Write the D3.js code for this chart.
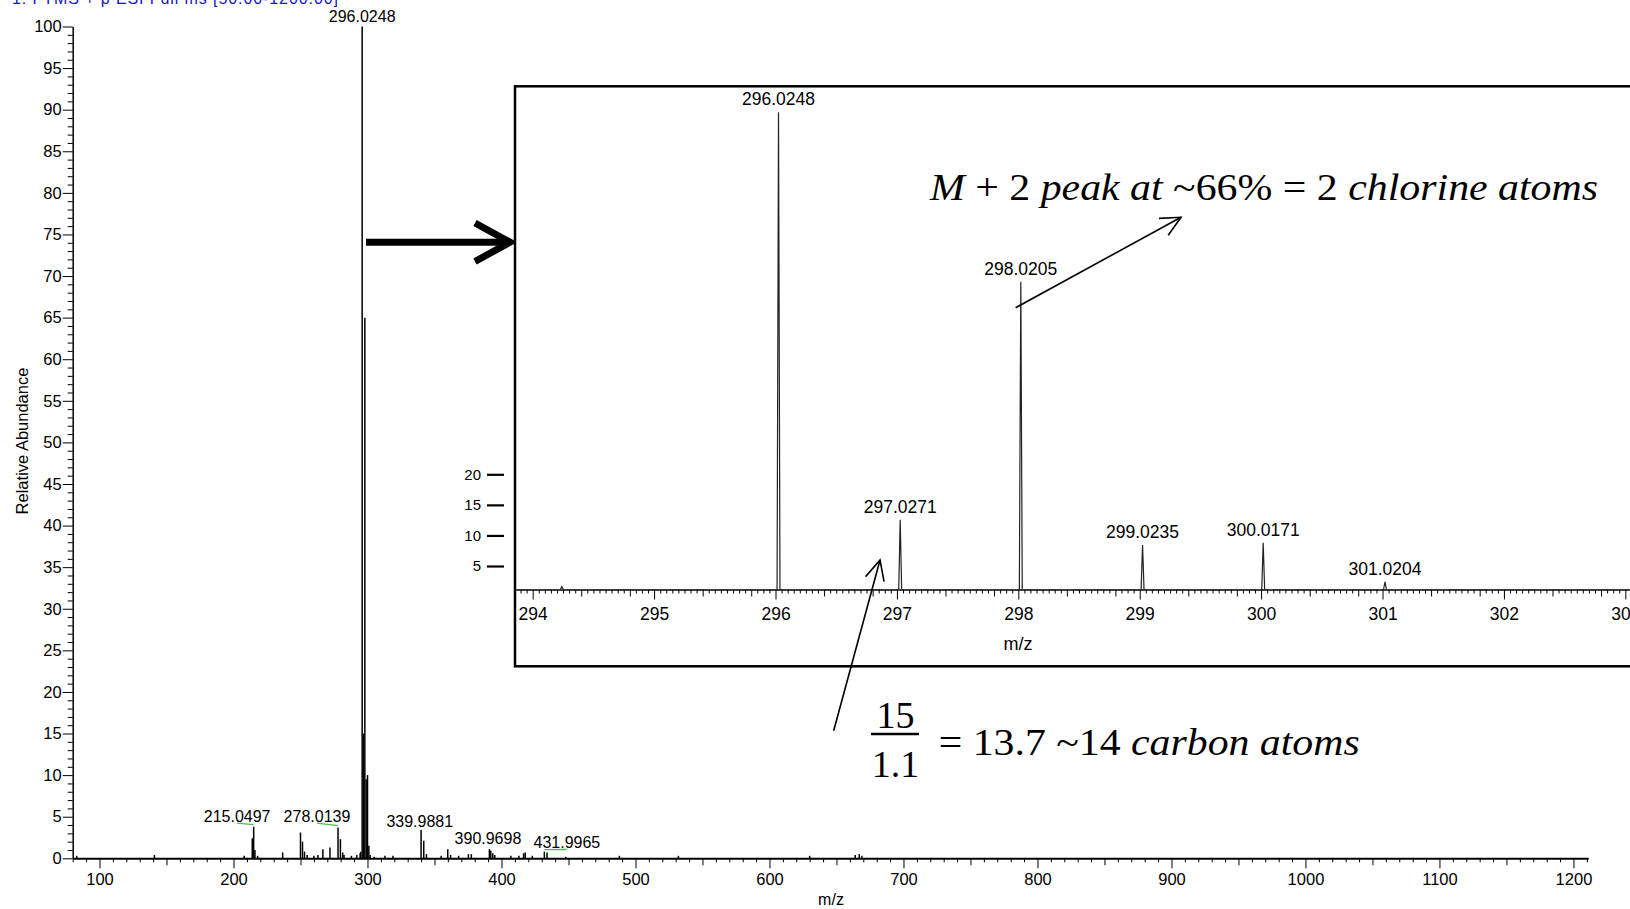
<!DOCTYPE html>
<html>
<head>
<meta charset="utf-8">
<script src="https://cdn.jsdelivr.net/npm/d3@7"></script>
<style>
  body { margin: 0; background: #fff; }
  svg { display: block; }
  text { font-family: "Liberation Sans", Arial, sans-serif; fill: #000; }
  .math { font-family: "Liberation Serif", "DejaVu Serif", serif; }
</style>
</head>
<body>
<svg id="chart" width="1630" height="909"></svg>
<script>
// Full scan peaks (m/z, relative abundance %)
const peakMz = [83.0, 141.0, 208.0, 214.0, 215.0497, 216.0, 218.0, 236.7, 250.0, 251.5, 253.0, 255.0,
  260.0, 263.0, 266.7, 272.0, 278.0139, 279.8, 281.5, 282.5, 288.0, 292.0, 294.5, 295.0,
  296.0248, 297.0271, 298.0205, 299.0235, 300.0171, 301.0204, 302.0, 305.0, 313.0, 319.0,
  339.9881, 341.99, 344.0, 355.0, 359.9, 362.0, 368.0, 375.3, 377.5, 390.9698, 392.0, 393.5,
  395.0, 407.0, 413.0, 416.5, 417.7, 423.0, 431.9965, 434.0, 448.0, 488.0, 532.0, 630.0,
  664.0, 667.0, 669.0];
const peakAbund = [0.3, 0.4, 0.3, 2.4, 3.8, 1.0, 0.3, 0.7, 3.1, 2.0, 0.8, 0.4,
  0.3, 0.4, 1.1, 1.3, 3.7, 2.3, 0.7, 0.4, 0.3, 0.4, 0.6, 0.8,
  100, 15, 65, 9.5, 10, 1.5, 0.4, 0.2, 0.3, 0.3,
  3.4, 2.1, 0.5, 0.3, 1.1, 0.4, 0.3, 0.5, 0.5, 1.1, 0.9, 0.6,
  0.4, 0.3, 0.3, 0.6, 0.7, 0.3, 0.8, 0.7, 0.2, 0.3, 0.3, 0.3,
  0.4, 0.5, 0.3];

// Labelled peaks of the full scan and where their labels sit
const labelText = ["296.0248", "215.0497", "278.0139", "339.9881", "390.9698", "431.9965"];
const labelPeakAbund = [100, 3.8, 3.7, 3.4, 1.1, 0.8];
const labelMz = [296.0248, 202.7, 262.3, 339.0, 389.9, 448.8];
const labelAbund = [100.5, 4.4, 4.4, 3.8, 1.7, 1.24];
const labelLeader = [false, true, true, false, false, true];

const xTicks = d3.range(100, 1201, 100);
const yTicks = d3.range(0, 101, 5);

// Zoomed isotope cluster
const zoomMz = [294.24, 296.0248, 297.0271, 298.0205, 299.0235, 300.0171, 301.0204];
const zoomAbund = [0.6, 100, 14.6, 64.5, 9.3, 9.8, 1.6];
const zoomLabels = ["", "296.0248", "297.0271", "298.0205", "299.0235", "300.0171", "301.0204"];
const zoomTicks = d3.range(294, 304, 1);
const zoomYTicks = [5, 10, 15, 20];

const svg = d3.select("#chart");

// ---------- full scan ----------
const x = d3.scaleLinear().domain([80, 1211]).range([72.7, 1588.2]);
const y = d3.scaleLinear().domain([0, 100]).range([858.3, 26.5]);

// title (clipped at the top like the original export)
svg.append("text")
  .attr("x", 12).attr("y", 3.5)
  .attr("font-size", 16)
  .attr("textLength", 326)
  .style("fill", "#1414c8")
  .text("1: FTMS + p ESI Full ms [50.00-1200.00]");

// minor x ticks
const xMinor = d3.range(80, 1211, 10).filter(v => v % 100 !== 0);
svg.append("g")
  .attr("transform", `translate(0,${y(0)})`)
  .call(d3.axisBottom(x).tickValues(xMinor).tickSize(4).tickSizeOuter(0).tickFormat(""))
  .call(g => g.select(".domain").remove())
  .call(g => g.selectAll(".tick line").attr("y2", d => d % 50 === 0 ? 7 : 4));

// major x axis
svg.append("g")
  .attr("transform", `translate(0,${y(0)})`)
  .call(d3.axisBottom(x).tickValues(xTicks).tickSize(10).tickSizeOuter(0).tickPadding(5).tickFormat(d3.format("d")))
  .call(g => g.select(".domain").attr("stroke-width", 2))
  .call(g => g.selectAll("text").attr("font-size", 16.5).attr("font-family", "Liberation Sans, Arial, sans-serif"));

// minor y ticks
const yMinor = d3.range(0, 101, 1).filter(v => v % 5 !== 0);
svg.append("g")
  .attr("transform", `translate(${x(80)},0)`)
  .call(d3.axisLeft(y).tickValues(yMinor).tickSize(5).tickSizeOuter(0).tickFormat(""))
  .call(g => g.select(".domain").remove());

// major y axis
svg.append("g")
  .attr("transform", `translate(${x(80)},0)`)
  .call(d3.axisLeft(y).tickValues(yTicks).tickSize(10).tickSizeOuter(0).tickPadding(1))
  .call(g => g.select(".domain").attr("stroke-width", 1.5))
  .call(g => g.selectAll("text").attr("font-size", 16.5).attr("font-family", "Liberation Sans, Arial, sans-serif"));

svg.append("text")
  .attr("transform", `translate(28,441) rotate(-90)`)
  .attr("text-anchor", "middle")
  .attr("font-size", 16.5)
  .text("Relative Abundance");

svg.append("text")
  .attr("x", 831).attr("y", 904.5)
  .attr("text-anchor", "middle")
  .attr("font-size", 16)
  .text("m/z");

// peaks
svg.append("g")
  .selectAll("line")
  .data(peakMz)
  .join("line")
  .attr("x1", d => x(d)).attr("x2", d => x(d))
  .attr("y1", y(0))
  .attr("y2", (d, i) => y(peakAbund[i]))
  .attr("stroke", "#000")
  .attr("stroke-width", 1.5);

// leader lines
svg.append("g")
  .selectAll("line")
  .data(labelText.filter((d, i) => labelLeader[i]))
  .join("line")
  .each(function(d) {
    const i = labelText.indexOf(d);
    d3.select(this)
      .attr("x1", x(labelMz[i])).attr("y1", y(labelAbund[i]) + 1.5)
      .attr("x2", x(+d)).attr("y2", y(labelPeakAbund[i]) - 2);
  })
  .attr("stroke", "#4cc04c")
  .attr("stroke-width", 1.3);

svg.append("g")
  .selectAll("text")
  .data(labelText)
  .join("text")
  .attr("x", (d, i) => x(labelMz[i]))
  .attr("y", (d, i) => y(labelAbund[i]))
  .attr("text-anchor", "middle")
  .attr("font-size", 16)
  .text(d => d);

// big arrow pointing to the inset
svg.append("line")
  .attr("x1", 366).attr("y1", 242.2).attr("x2", 507).attr("y2", 242.2)
  .attr("stroke", "#000").attr("stroke-width", 7);
svg.append("polyline")
  .attr("points", "475,223 510,242.2 475,261.5")
  .attr("fill", "none").attr("stroke", "#000").attr("stroke-width", 7)
  .attr("stroke-linejoin", "miter");

// ---------- inset ----------
const xz = d3.scaleLinear().domain([293.86, 303.05]).range([515.7, 1631.4]);
const yz = d3.scaleLinear().domain([0, 100]).range([589.5, 112.3]);
const yzTick = d3.scaleLinear().domain([5, 20]).range([566, 474.3]);

svg.append("rect")
  .attr("x", 515).attr("y", 86.3)
  .attr("width", 1200).attr("height", 580)
  .attr("fill", "#fff")
  .attr("stroke", "#000")
  .attr("stroke-width", 2.5);

const zMinor = d3.range(0, 9 * 20 + 3).map(k => 293.9 + k * 0.05)
  .filter(v => Math.abs(v - Math.round(v)) > 0.01);
svg.append("g")
  .attr("transform", `translate(0,${yz(0)})`)
  .call(d3.axisBottom(xz).tickValues(zMinor).tickSize(4).tickSizeOuter(0).tickFormat(""))
  .call(g => g.select(".domain").remove())
  .call(g => g.selectAll(".tick line").attr("y2", d => {
    const f = Math.round((d - Math.floor(d)) * 100);
    return (f === 40 || f === 80) ? 7 : 4;
  }));

svg.append("g")
  .attr("transform", `translate(0,${yz(0)})`)
  .call(d3.axisBottom(xz).tickValues(zoomTicks).tickSize(10).tickSizeOuter(0).tickPadding(8))
  .call(g => g.select(".domain").attr("stroke-width", 1.5))
  .call(g => g.selectAll("text").attr("font-size", 17.5).attr("font-family", "Liberation Sans, Arial, sans-serif"));

svg.append("g")
  .attr("transform", `translate(504,0)`)
  .call(d3.axisLeft(yzTick).tickValues(zoomYTicks).tickSize(17).tickPadding(6))
  .call(g => g.select(".domain").remove())
  .call(g => g.selectAll(".tick line").attr("stroke-width", 2.2))
  .call(g => g.selectAll("text").attr("font-size", 15).attr("font-family", "Liberation Sans, Arial, sans-serif"));

svg.append("text")
  .attr("x", 1018).attr("y", 650)
  .attr("text-anchor", "middle")
  .attr("font-size", 18)
  .text("m/z");

svg.append("g")
  .selectAll("path")
  .data(zoomMz)
  .join("path")
  .attr("d", (d, i) => `M${xz(d - 0.012)},${yz(0)}L${xz(d)},${yz(zoomAbund[i])}L${xz(d + 0.012)},${yz(0)}`)
  .attr("fill", "none")
  .attr("stroke", "#222")
  .attr("stroke-width", 1.2);

svg.append("g")
  .selectAll("text")
  .data(zoomMz)
  .join("text")
  .attr("x", d => xz(d))
  .attr("y", (d, i) => yz(zoomAbund[i]) - 7)
  .attr("text-anchor", "middle")
  .attr("font-size", 17.5)
  .text((d, i) => zoomLabels[i]);

// ---------- annotations ----------
function arrow(x1, y1, x2, y2) {
  const a = Math.atan2(y2 - y1, x2 - x1);
  const len = 22, spread = 0.45;
  svg.append("line")
    .attr("x1", x1).attr("y1", y1).attr("x2", x2).attr("y2", y2)
    .attr("stroke", "#000").attr("stroke-width", 1.6);
  svg.append("polyline")
    .attr("points", [
      [x2 - len * Math.cos(a - spread), y2 - len * Math.sin(a - spread)],
      [x2, y2],
      [x2 - len * Math.cos(a + spread), y2 - len * Math.sin(a + spread)]
    ].map(p => p.join(",")).join(" "))
    .attr("fill", "none").attr("stroke", "#000").attr("stroke-width", 1.6);
}
arrow(xz(297.978), yz(59.05), xz(299.34), yz(78.0));
arrow(xz(296.479), yz(-29.6), xz(296.861), yz(6.18));

const note1 = svg.append("text")
  .attr("class", "math")
  .attr("x", 930).attr("y", 199.6)
  .attr("font-size", 38)
  .attr("textLength", 668)
  .attr("lengthAdjust", "spacingAndGlyphs");
note1.append("tspan").attr("font-style", "italic").text("M");
note1.append("tspan").text(" + 2 ");
note1.append("tspan").attr("font-style", "italic").text("peak at");
note1.append("tspan").text(" ~66% = 2 ");
note1.append("tspan").attr("font-style", "italic").text("chlorine atoms");

svg.append("text").attr("class", "math")
  .attr("x", 895.5).attr("y", 728)
  .attr("text-anchor", "middle").attr("font-size", 38)
  .text("15");
svg.append("line")
  .attr("x1", 871).attr("x2", 919).attr("y1", 734).attr("y2", 734)
  .attr("stroke", "#000").attr("stroke-width", 2.5);
svg.append("text").attr("class", "math")
  .attr("x", 895.5).attr("y", 776.5)
  .attr("text-anchor", "middle").attr("font-size", 38)
  .text("1.1");

const note2 = svg.append("text")
  .attr("class", "math")
  .attr("x", 938.7).attr("y", 754.7)
  .attr("font-size", 37)
  .attr("textLength", 421)
  .attr("lengthAdjust", "spacingAndGlyphs");
note2.append("tspan").text("= 13.7 ~14 ");
note2.append("tspan").attr("font-style", "italic").text("carbon atoms");
</script>
</body>
</html>
